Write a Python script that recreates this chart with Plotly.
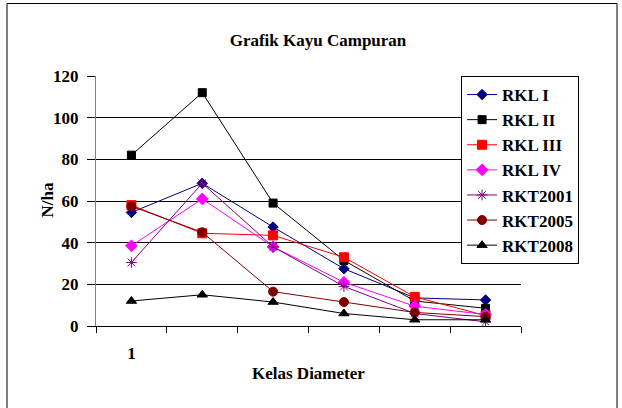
import plotly.graph_objects as go

# ============================================================
# Data
# ============================================================
kelas = ["1", "2", "3", "4", "5", "6"]
tick_text = ["1", "", "", "", "", ""]

rkl_1 = [54.5, 68.5, 47.5, 27.5, 13.5, 12.5]
rkl_2 = [82, 112, 59, 31.5, 12, 8.5]
rkl_3 = [58, 44.5, 43.5, 33, 14, 5]
rkl_4 = [38.5, 61, 38, 21, 9.5, 5.5]
rkt_2001 = [30.5, 68.5, 38, 19, 6, 2]
rkt_2005 = [57.5, 45, 16.5, 11.5, 6.5, 4.5]
rkt_2008 = [12, 15, 11.5, 6, 3, 3]

y_ticks = [0, 20, 40, 60, 80, 100, 120]

FONT = "Times New Roman, Liberation Serif, serif"


def serif(size):
    return dict(family=FONT, size=size, color="black")


series = [
    ("RKL I", rkl_1, "#000080", "diamond", 8),
    ("RKL II", rkl_2, "#000000", "square", 8),
    ("RKL III", rkl_3, "#FF0000", "square", 9),
    ("RKL IV", rkl_4, "#FF00FF", "diamond", 9),
    ("RKT2001", rkt_2001, "#800080", "asterisk-open", 9),
    ("RKT2005", rkt_2005, "#800000", "circle", 9),
    ("RKT2008", rkt_2008, "#000000", "triangle-up", 9),
]

fig = go.Figure()
for name, vals, color, symbol, size in series:
    fig.add_trace(go.Scatter(
        x=kelas, y=vals, name="<b>%s</b>" % name, mode="lines+markers",
        line=dict(color=color, width=1),
        marker=dict(symbol=symbol, size=size, color=color,
                    line=dict(color=color, width=1)),
    ))

fig.update_layout(
    width=622, height=408,
    margin=dict(l=96, r=101, t=76, b=82),
    paper_bgcolor="white", plot_bgcolor="white",
    font=serif(16),
    title=dict(text="<b>Grafik Kayu Campuran</b>", x=318 / 622, xanchor="center",
               y=1 - 40 / 408, yanchor="middle", yref="container",
               font=serif(17)),
    legend=dict(x=0.859, xanchor="left", y=1.0, yanchor="top",
                bgcolor="white", bordercolor="black", borderwidth=1,
                font=serif(17), itemwidth=30, tracegroupgap=0),
    showlegend=True,
)

fig.update_xaxes(
    type="category", categoryorder="array", categoryarray=kelas,
    range=[-0.5, len(kelas) - 0.5],
    tickmode="array", tickvals=kelas, ticktext=["<b>%s</b>" % t for t in tick_text],
    tickson="boundaries", ticks="outside", ticklen=6, tickcolor="black",
    showgrid=False, showline=True, linecolor="black", linewidth=1,
    ticklabelstandoff=12, tickfont=serif(17),
)
fig.update_yaxes(
    range=[0, 120], tickvals=y_ticks, ticktext=["<b>%d</b>" % v for v in y_ticks],
    ticks="outside", ticklen=8, tickcolor="black",
    showgrid=True, gridcolor="#000000", gridwidth=1,
    showline=True, linecolor="#808080", linewidth=1,
    zeroline=False, tickfont=serif(17), ticklabelstandoff=5,
)

# axis titles
fig.add_annotation(text="<b>Kelas Diameter</b>", xref="paper", yref="paper",
                   x=(308 - 96) / 425, y=(326 - 385) / 250, showarrow=False,
                   font=serif(17))
fig.add_annotation(text="<b>N/ha</b>", xref="paper", yref="paper",
                   x=(35 - 96) / 425, y=(326 - 200) / 250, textangle=-90,
                   showarrow=False, font=serif(17))

# outer chart frame
fig.add_shape(type="rect", xref="paper", yref="paper",
              x0=(7 - 96) / 425, x1=(617 - 96) / 425,
              y0=(326 - 412) / 250, y1=(326 - 3.5) / 250,
              line=dict(color="black", width=1))

# no page margin around the 622x408 figure
fig.write_html("out.html", config={"displayModeBar": False},
               post_script="document.body.style.margin='0';document.body.style.overflow='hidden';")
